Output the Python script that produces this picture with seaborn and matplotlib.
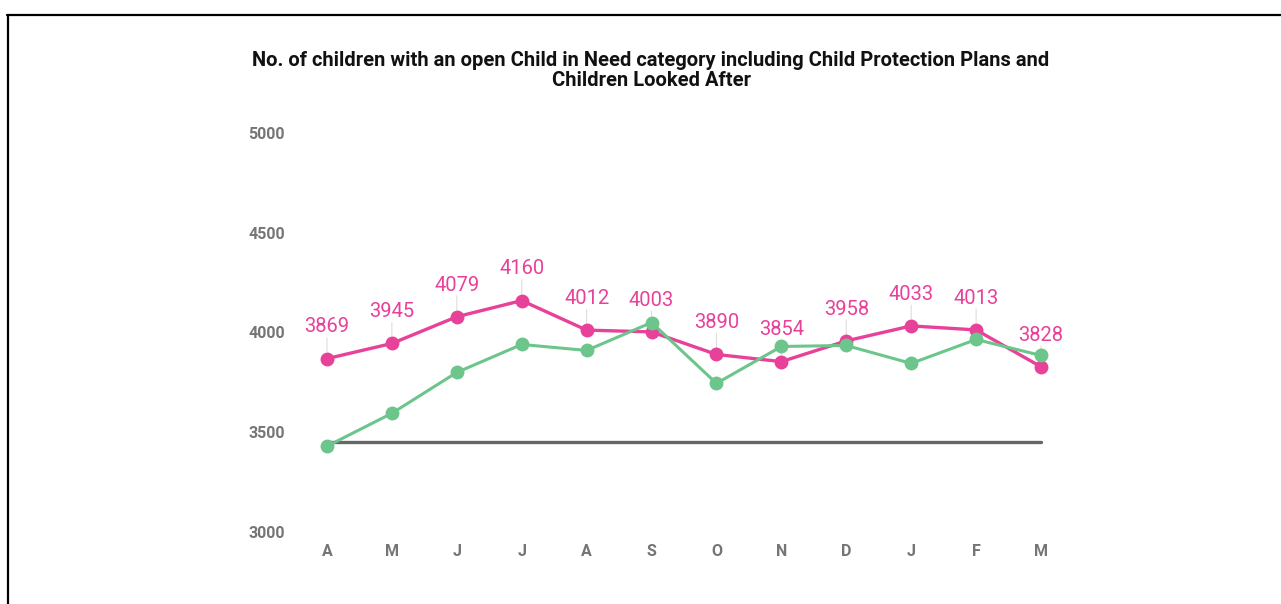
import matplotlib
matplotlib.use("Agg")
import matplotlib.pyplot as plt
from matplotlib.lines import Line2D
import seaborn as sns
import pandas as pd

months = ["A", "M", "J", "J", "A", "S", "O", "N", "D", "J", "F", "M"]
cin_total = [3869, 3945, 4079, 4160, 4012, 4003, 3890, 3854, 3958, 4033, 4013, 3828]
comparison = [3430, 3595, 3800, 3940, 3910, 4050, 3745, 3930, 3935, 3845, 3965, 3885]
reference_level = 3450
y_ticks = [3000, 3500, 4000, 4500, 5000]
title_lines = ["No. of children with an open Child in Need category including Child Protection Plans and",
               "Children Looked After"]

PINK = "#E8419A"
GREEN = "#6CC58A"
GREY_LINE = "#666666"
TICK_GREY = "#757575"

sns.set_theme(style="white")
plt.rcParams["font.family"] = ["Roboto", "DejaVu Sans"]

df = pd.DataFrame({
    "idx": list(range(len(months))),
    "cin": cin_total,
    "cmp": comparison,
    "ref": [reference_level] * len(months),
})

fig = plt.figure(figsize=(12.81, 6.04), dpi=100)
ax = fig.add_axes([301 / 1281, 72 / 604, 766 / 1281, 399 / 604])

sns.lineplot(data=df, x="idx", y="ref", ax=ax, color=GREY_LINE, lw=2.4, zorder=1)
sns.lineplot(data=df, x="idx", y="cin", ax=ax, color=PINK, lw=2.4, marker="o",
             markersize=10, markeredgewidth=0, zorder=3)
sns.lineplot(data=df, x="idx", y="cmp", ax=ax, color=GREEN, lw=2.2, marker="o",
             markersize=10, markeredgewidth=0, zorder=4)

for i, v in enumerate(cin_total):
    ax.annotate("", xy=(i, v), xytext=(0, 15), textcoords="offset points",
                arrowprops=dict(arrowstyle="-", color="#dddddd", lw=0.8,
                                shrinkA=0, shrinkB=5), zorder=2)
    ax.annotate(str(v), xy=(i, v), xytext=(0, 16), textcoords="offset points",
                ha="center", va="bottom", color=PINK, fontsize=14.5, zorder=5)

ax.set_xlim(-0.4, len(months) - 1 + 0.4)
ax.set_ylim(3000, 5000)
ax.set_xticks(range(len(months)))
ax.set_xticklabels(months)
ax.set_yticks(y_ticks)
ax.set_yticklabels([str(t) for t in y_ticks])
ax.tick_params(axis="y", length=0, pad=11.5, labelsize=11.5, labelcolor=TICK_GREY)
ax.tick_params(axis="x", length=0, pad=9, labelsize=11.5, labelcolor=TICK_GREY)
for lab in ax.get_xticklabels() + ax.get_yticklabels():
    lab.set_fontweight("bold")
ax.set_xlabel("")
ax.set_ylabel("")
sns.despine(ax=ax, left=True, bottom=True)
ax.patch.set_alpha(0)

for line, ypx in zip(title_lines, [60.5, 80]):
    fig.text(651 / 1281, 1 - ypx / 604, line, ha="center", va="center",
             fontsize=14.5, fontweight="bold", color="#111111")

fig.add_artist(Line2D([7 / 1281, 1], [1 - 15 / 604, 1 - 15 / 604], color="black", lw=1.6,
                      transform=fig.transFigure))
fig.add_artist(Line2D([8 / 1281, 8 / 1281], [0, 1 - 15 / 604], color="black", lw=1.6,
                      transform=fig.transFigure))

fig.savefig("out.png", dpi=100, facecolor="white")
